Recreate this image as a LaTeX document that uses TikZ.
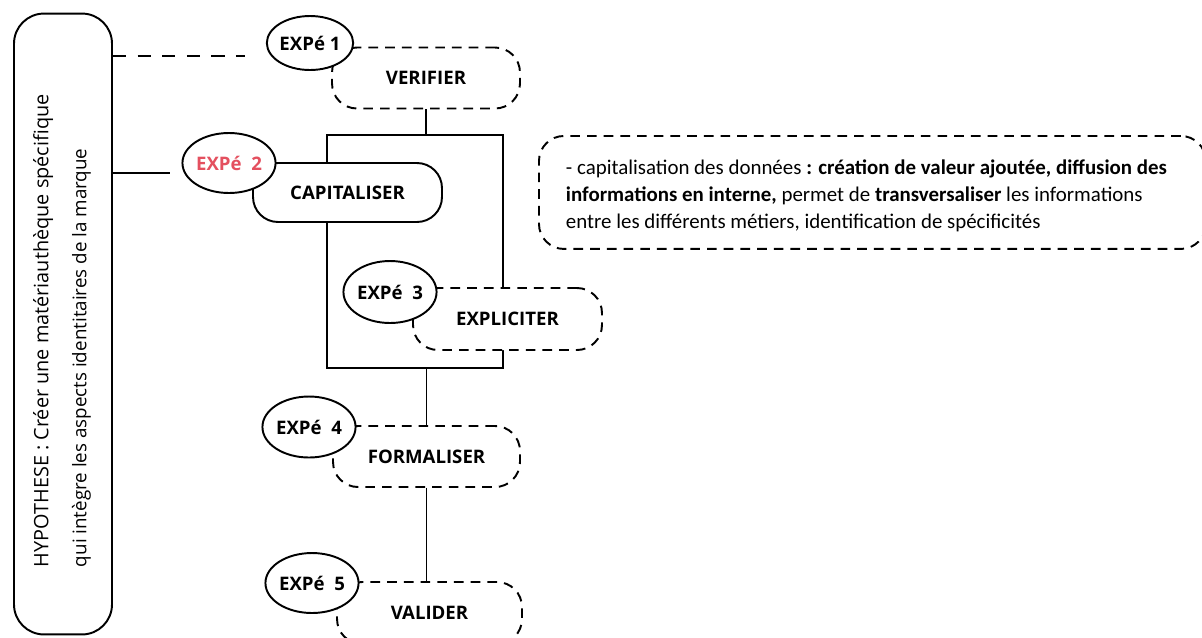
\documentclass[tikz,border=0pt]{standalone}
\usepackage{fontspec}
\setmainfont{Open Sans}
\newfontfamily\notefont{Carlito}
\usetikzlibrary{shapes.geometric, positioning}
\definecolor{expred}{HTML}{E4505F}

\begin{document}
\begin{tikzpicture}[x=0.02cm, y=-0.02cm, line width=1.1pt,
    every node/.style={font=\fontsize{10}{13}\selectfont},
    expe/.style={ellipse, draw, fill=white, inner sep=0pt, minimum width=1.66cm,
        minimum height=1.2cm, font=\fontsize{10.6}{12}\selectfont\bfseries},
    stepbox/.style={draw, dash pattern=on 5.5pt off 4pt, rounded corners=0.5cm, fill=white,
        minimum width=3.76cm, minimum height=1.22cm, font=\fontsize{10.6}{12}\selectfont\bfseries},
    capbox/.style={stepbox, solid},
]
\clip (0,0) rectangle (1202,637);

% hypothesis column
\node[draw, rounded corners=0.6cm, minimum width=1.96cm, minimum height=12.42cm] (hyp) at (63,324) {};
\node[rotate=90, anchor=west, align=left, inner sep=0pt, font=\fontsize{10.7}{21.6}\selectfont] (hyptext) at (62,568)
    {{\fontsize{11.3}{21.6}\selectfont HYPOTHESE : Créer une matériauthèque spécifique}\\
     qui intègre les aspects identitaires de la marque};
\coordinate (hypA) at (245,56);
\coordinate (hypB) at (170,173);
\draw[dash pattern=on 7.5pt off 6.5pt] (hyp.east |- hypA) -- (hypA);
\draw (hyp.east |- hypB) -- (hypB);

% frame joining the steps
\coordinate (frameNW) at (327,135);
\coordinate (frameSE) at (503,368);
\draw (frameNW) rectangle (frameSE);

% steps
\node[stepbox] (verif) at (426,78) {VERIFIER};
\node[capbox, minimum width=3.78cm, minimum height=1.18cm] (capit) at (347.5,192.5) {CAPITALISER};
\node[stepbox, minimum width=3.78cm, minimum height=1.24cm] (expli) at (507.5,319) {EXPLICITER};
\node[stepbox, minimum width=3.74cm] (formal) at (426.5,456.5) {FORMALISER};
\node[stepbox, minimum width=3.7cm, minimum height=1.24cm] (valid) at (429.5,613) {VALIDER};

\draw (verif.south) -- (verif.south |- frameNW);
\draw (formal.north |- frameSE) -- (formal.north);
\draw (formal.south) -- (formal.south |- valid.north);

% experiments
\node[expe, minimum height=1.08cm] (exp1) at (310,43) {EXPé 1};
\node[expe, text=expred] (exp2) at (229,163) {EXPé\ \ 2};
\node[expe, minimum height=1.24cm] (exp3) at (390,292) {EXPé\ \ 3};
\node[expe, minimum height=1.22cm] (exp4) at (309,427) {EXPé\ \ 4};
\node[expe] (exp5) at (312,583) {EXPé\ \ 5};

% note on capitalisation
\node[draw, dash pattern=on 5.5pt off 4pt, rounded corners=0.5cm, anchor=north west,
    minimum width=13.34cm, minimum height=2.26cm] (note) at (538,135) {};
\node[anchor=west, align=left, inner sep=0pt, font=\notefont\fontsize{11.9}{15.4}\selectfont] (notetext) at (565,196)
    {- capitalisation des données \textbf{: création de valeur ajoutée, diffusion des}\\
     \textbf{informations en interne,} permet de \textbf{transversaliser} les informations\\
     entre les différents métiers, identification de spécificités};

\end{tikzpicture}
\end{document}
